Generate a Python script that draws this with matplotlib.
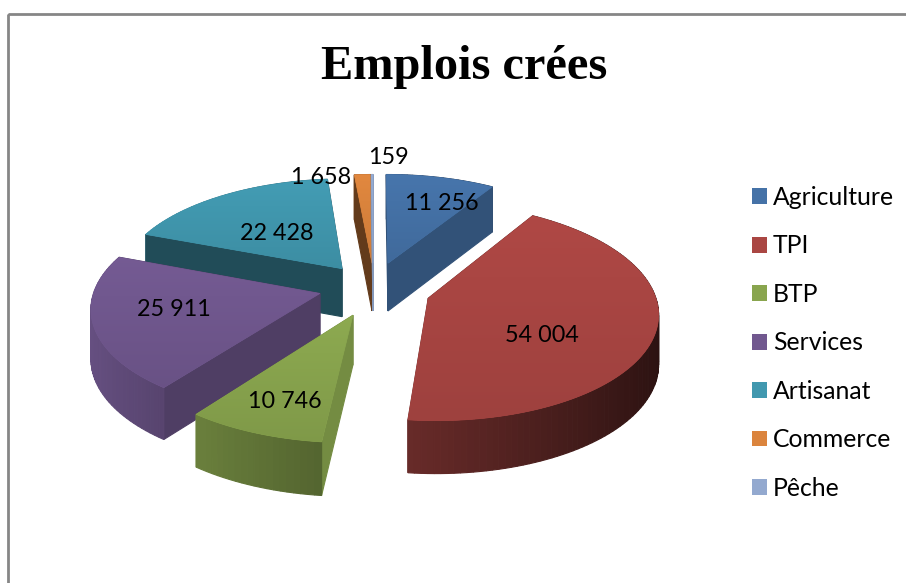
import matplotlib
matplotlib.use('Agg')
import matplotlib.pyplot as plt
from matplotlib.patches import Polygon, Patch, Rectangle
from matplotlib.colors import to_rgb
import numpy as np

categories = ['Agriculture', 'TPI', 'BTP', 'Services', 'Artisanat', 'Commerce', 'Pêche']
emplois = [11256, 54004, 10746, 25911, 22428, 1658, 159]
labels = ['11 256', '54 004', '10 746', '25 911', '22 428', '1 658', '159']
colors = ['#4572A7', '#AA4643', '#89A54E', '#71588F', '#4198AF', '#DB843D', '#93A9CF']

# how far each slice is pulled out, on the ground plane
explode_u = [0.073, 0.247, -0.082, -0.23, -0.136, 0.0, 0.005]
explode_v = [-0.205, 0.135, 0.29, 0.09, -0.15, -0.205, -0.205]
face_shade = [0.72, 0.6, 0.85, 0.7, 0.5, 0.45, 0.9]
label_pos = [(442, 204), (542, 335), (285, 402), (174, 310), (277, 233), (321, 178), (388, 157)]

CX, CY = 372, 284
RX, RY = 224, 104
PERSP = 0.12
DEPTH = 48.5


def project(u, v):
    s = 1 / (1 - PERSP * v)
    return CX + RX * u * s, CY + RY * v * s, DEPTH * s ** 0.6


def shaded(col, f):
    return tuple(min(1, c * f) for c in to_rgb(col))


fig = plt.figure(figsize=(9.06, 5.83), dpi=100)
ax = fig.add_axes([0, 0, 1, 1])
ax.set_xlim(0, 906)
ax.set_ylim(583, 0)
ax.axis('off')

ax.add_patch(Rectangle((8, 14), 1000, 1000, fill=False, ec='#868686', lw=2))

angles = np.concatenate([[0], np.cumsum(emplois)]) / sum(emplois) * 2 * np.pi
order = [4, 5, 6, 0, 3, 1, 2]
z = 2
for i in order:
    t = np.linspace(angles[i], angles[i + 1], max(3, int((angles[i + 1] - angles[i]) * 40)))
    u = explode_u[i] + np.sin(t)
    v = explode_v[i] - np.cos(t)
    px, py, d = project(u, v)
    x0, y0, d0 = project(explode_u[i], explode_v[i])

    # side faces, painted from back to front
    quads = []
    quads.append(((v[0] + explode_v[i]) / 2,
                  [(x0, y0), (px[0], py[0]), (px[0], py[0] + d[0]), (x0, y0 + d0)],
                  shaded(colors[i], face_shade[i])))
    quads.append(((v[-1] + explode_v[i]) / 2,
                  [(x0, y0), (px[-1], py[-1]), (px[-1], py[-1] + d[-1]), (x0, y0 + d0)],
                  shaded(colors[i], face_shade[i])))
    for k in range(len(t) - 1):
        f = 0.58 - 0.33 * np.sin(t[k])
        quads.append(((v[k] + v[k + 1]) / 2,
                      [(px[k], py[k]), (px[k + 1], py[k + 1]),
                       (px[k + 1], py[k + 1] + d[k + 1]), (px[k], py[k] + d[k])],
                      shaded(colors[i], f)))
    quads.sort(key=lambda q: q[0])
    for _, pts, col in quads:
        ax.add_patch(Polygon(pts, closed=True, fc=col, ec=col, lw=0.8, zorder=z))
        z += 1

    # top of the slice, soft vertical gradient
    top = Polygon(list(zip(px, py)) + [(x0, y0)], closed=True, fc=colors[i], ec=colors[i], lw=0.5, zorder=z)
    ax.add_patch(top)
    z += 1
    grad = np.linspace(1.03, 0.93, 64)[:, None, None] * np.array(to_rgb(colors[i]))[None, None, :]
    xs = list(px) + [x0]
    ys = list(py) + [y0]
    im = ax.imshow(np.clip(grad, 0, 1), extent=[min(xs), max(xs), max(ys), min(ys)], aspect='auto', zorder=z)
    im.set_clip_path(top)
    z += 1

ax.set_xlim(0, 906)
ax.set_ylim(583, 0)

for txt, (lx, ly) in zip(labels, label_pos):
    ax.text(lx, ly, txt, ha='center', va='center', fontsize=16.8, family='Lato', color='black', zorder=z + 1)

ax.text(464, 67, 'Emplois crées', ha='center', va='center', fontsize=34.8, fontweight='bold',
        family='Liberation Serif', color='black')

handles = [Patch(fc=c, ec='none') for c in colors]
fig.legend(handles, categories, loc='upper left', bbox_to_anchor=(752 / 906, 1 - 186 / 583),
           frameon=False, prop={'family': 'Lato', 'size': 17.8}, handlelength=0.6, handleheight=0.6,
           handletextpad=0.24, labelspacing=1.03, borderpad=0, borderaxespad=0)

plt.savefig('out.png', dpi=100)
